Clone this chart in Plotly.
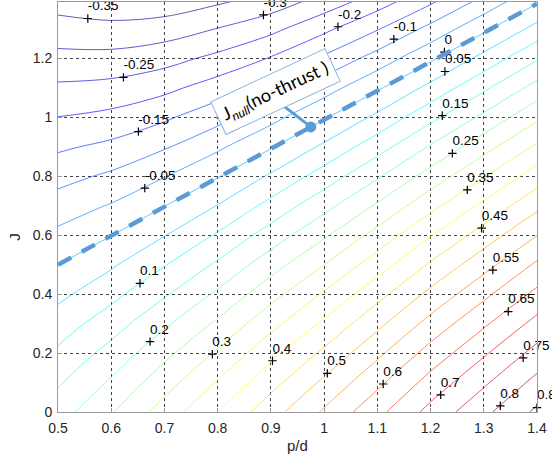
import plotly.graph_objects as go

# ---- data ----
pd_vals = [0.5, 0.6, 0.7, 0.8, 0.9, 1.0, 1.1, 1.2, 1.3, 1.4]
J_vals = [0.0, 0.1, 0.2, 0.3, 0.4, 0.5, 0.6, 0.7, 0.8, 0.9, 1.0, 1.1, 1.2, 1.3, 1.4]
# thrust coefficient, one row per J value, one column per p/d value
KT_rows = [
    [0.178, 0.246, 0.322, 0.400, 0.480, 0.557, 0.636, 0.716, 0.788, 0.860],
    [0.144, 0.207, 0.279, 0.354, 0.433, 0.510, 0.588, 0.669, 0.742, 0.815],
    [0.109, 0.168, 0.236, 0.307, 0.385, 0.460, 0.539, 0.619, 0.693, 0.767],
    [0.074, 0.127, 0.191, 0.259, 0.334, 0.409, 0.487, 0.567, 0.642, 0.716],
    [0.037, 0.085, 0.144, 0.209, 0.282, 0.356, 0.433, 0.513, 0.588, 0.663],
    [0.000, 0.043, 0.097, 0.158, 0.229, 0.300, 0.376, 0.456, 0.532, 0.608],
    [-0.038, -0.001, 0.048, 0.106, 0.173, 0.243, 0.318, 0.397, 0.473, 0.549],
    [-0.077, -0.046, -0.001, 0.052, 0.116, 0.184, 0.257, 0.335, 0.411, 0.488],
    [-0.117, -0.091, -0.052, -0.003, 0.057, 0.123, 0.194, 0.271, 0.347, 0.425],
    [-0.158, -0.138, -0.105, -0.059, -0.004, 0.060, 0.129, 0.205, 0.281, 0.359],
    [-0.199, -0.186, -0.158, -0.117, -0.066, -0.005, 0.062, 0.136, 0.212, 0.290],
    [-0.241, -0.234, -0.213, -0.176, -0.130, -0.072, -0.007, 0.065, 0.141, 0.219],
    [-0.285, -0.284, -0.268, -0.237, -0.196, -0.141, -0.079, -0.009, 0.067, 0.145],
    [-0.329, -0.335, -0.325, -0.298, -0.263, -0.211, -0.153, -0.085, -0.010, 0.068],
    [-0.373, -0.386, -0.384, -0.361, -0.333, -0.284, -0.229, -0.163, -0.089, -0.011],
]
level_start, level_end, level_step = -0.35, 0.85, 0.05

# contour label anchor points (clabel '+' markers) and texts
label_pd = [0.556, 0.886, 0.623, 1.026, 0.651, 1.131, 0.663, 1.226, 1.227, 0.654, 1.222, 0.673,
            1.241, 0.790, 1.269, 0.903, 1.296, 1.006, 1.317, 1.111, 1.346, 1.219, 1.374, 1.331, 1.400]
label_J = [1.336, 1.348, 1.136, 1.308, 0.952, 1.266, 0.760, 1.222, 1.156, 0.437, 1.006, 0.239,
           0.878, 0.196, 0.754, 0.174, 0.624, 0.131, 0.482, 0.095, 0.341, 0.058, 0.184, 0.021, 0.015]
label_text = ["-0.35", "-0.3", "-0.25", "-0.2", "-0.15", "-0.1", "-0.05", "0", "0.05", "0.1", "0.15", "0.2",
              "0.25", "0.3", "0.35", "0.4", "0.45", "0.5", "0.55", "0.6", "0.65", "0.7", "0.75", "0.8", "0.85"]

# J_null (no-thrust) dashed line and callout
null_pd = [0.5, 1.4]
null_J = [0.5, 1.386]
callout_pd = [0.923, 0.975]
callout_J = [1.040, 0.968]
callout_text = "J<sub><i>null</i></sub>(no-thrust )"
callout_pos = (0.909, 1.088)

x_ticks = [0.5, 0.6, 0.7, 0.8, 0.9, 1.0, 1.1, 1.2, 1.3, 1.4]
x_ticktext = ["0.5", "0.6", "0.7", "0.8", "0.9", "1", "1.1", "1.2", "1.3", "1.4"]
y_ticks = [0, 0.2, 0.4, 0.6, 0.8, 1.0, 1.2]
y_ticktext = ["0", "0.2", "0.4", "0.6", "0.8", "1", "1.2"]
x_title, y_title = "p/d", "J"

jet = [[0.0, "#00008F"], [0.125, "#0000FF"], [0.375, "#00FFFF"],
       [0.625, "#FFFF00"], [0.875, "#FF0000"], [1.0, "#800000"]]
blue = "#5B9BD5"
font_main = "Liberation Sans, Arial"
text_lift = 0.016  # label text sits a few pixels above its '+' marker

fig = go.Figure()
fig.add_trace(go.Contour(
    x=pd_vals, y=J_vals, z=KT_rows,
    colorscale=jet, zmin=-0.38, zmax=0.9, zauto=False,
    contours=dict(start=level_start, end=level_end, size=level_step, coloring="lines"),
    line=dict(width=0.9, smoothing=1.0),
    opacity=0.7,
    showscale=False, hoverinfo="skip",
))
fig.add_trace(go.Scatter(
    x=label_pd, y=label_J, mode="markers", cliponaxis=False,
    marker=dict(symbol="cross-thin", size=6, line=dict(width=1.2, color="black"), color="black"),
    showlegend=False, hoverinfo="skip",
))
fig.add_trace(go.Scatter(
    x=label_pd, y=[j + text_lift for j in label_J], mode="text", text=label_text,
    textposition="top right", cliponaxis=False,
    textfont=dict(family=font_main, size=13.5, color="black"),
    showlegend=False, hoverinfo="skip",
))
fig.add_trace(go.Scatter(
    x=null_pd, y=null_J, mode="lines",
    line=dict(color=blue, width=4.5, dash="15px,12px"),
    showlegend=False, hoverinfo="skip",
))
fig.add_trace(go.Scatter(
    x=callout_pd, y=callout_J, mode="lines",
    line=dict(color=blue, width=3),
    showlegend=False, hoverinfo="skip",
))
fig.add_trace(go.Scatter(
    x=[callout_pd[1]], y=[callout_J[1]], mode="markers",
    marker=dict(color=blue, size=11),
    showlegend=False, hoverinfo="skip",
))
fig.add_annotation(
    x=callout_pos[0], y=callout_pos[1], text=callout_text, showarrow=False,
    textangle=-25, bgcolor="white", bordercolor="#8EB4DC", borderwidth=1, borderpad=5,
    font=dict(family="Lato, Open Sans", size=18, color="black"),
)
# axis titles placed like the reference
fig.add_annotation(x=0.5, y=-0.082, xref="paper", yref="paper", text=x_title, showarrow=False,
                   xanchor="center", yanchor="middle", font=dict(family=font_main, size=15, color="#262626"))
fig.add_annotation(x=-0.09, y=0.427, xref="paper", yref="paper", text=y_title, showarrow=False,
                   textangle=-90, xanchor="center", yanchor="middle",
                   font=dict(family=font_main, size=15, color="#262626"))

axis_common = dict(
    showgrid=True, gridcolor="#444444", griddash="dot", gridwidth=1,
    showline=True, linecolor="#9a9a9a", linewidth=1, mirror=True,
    ticks="inside", ticklen=4, tickcolor="#9a9a9a",
    tickfont=dict(family=font_main, size=14, color="#262626"),
    zeroline=False, automargin=False,
)
fig.update_xaxes(range=[0.5, 1.4], tickvals=x_ticks, ticktext=x_ticktext, ticklabelstandoff=3, **axis_common)
fig.update_yaxes(range=[0, 1.392], tickvals=y_ticks, ticktext=y_ticktext, ticklabelstandoff=2, **axis_common)
fig.update_layout(
    width=552, height=457,
    margin=dict(l=58, r=15, t=2, b=45),
    paper_bgcolor="white", plot_bgcolor="white",
    showlegend=False,
)
fig.write_html("out.html", config={"displayModeBar": False},
               post_script="document.body.style.margin='0px';document.body.style.overflow='hidden';")
